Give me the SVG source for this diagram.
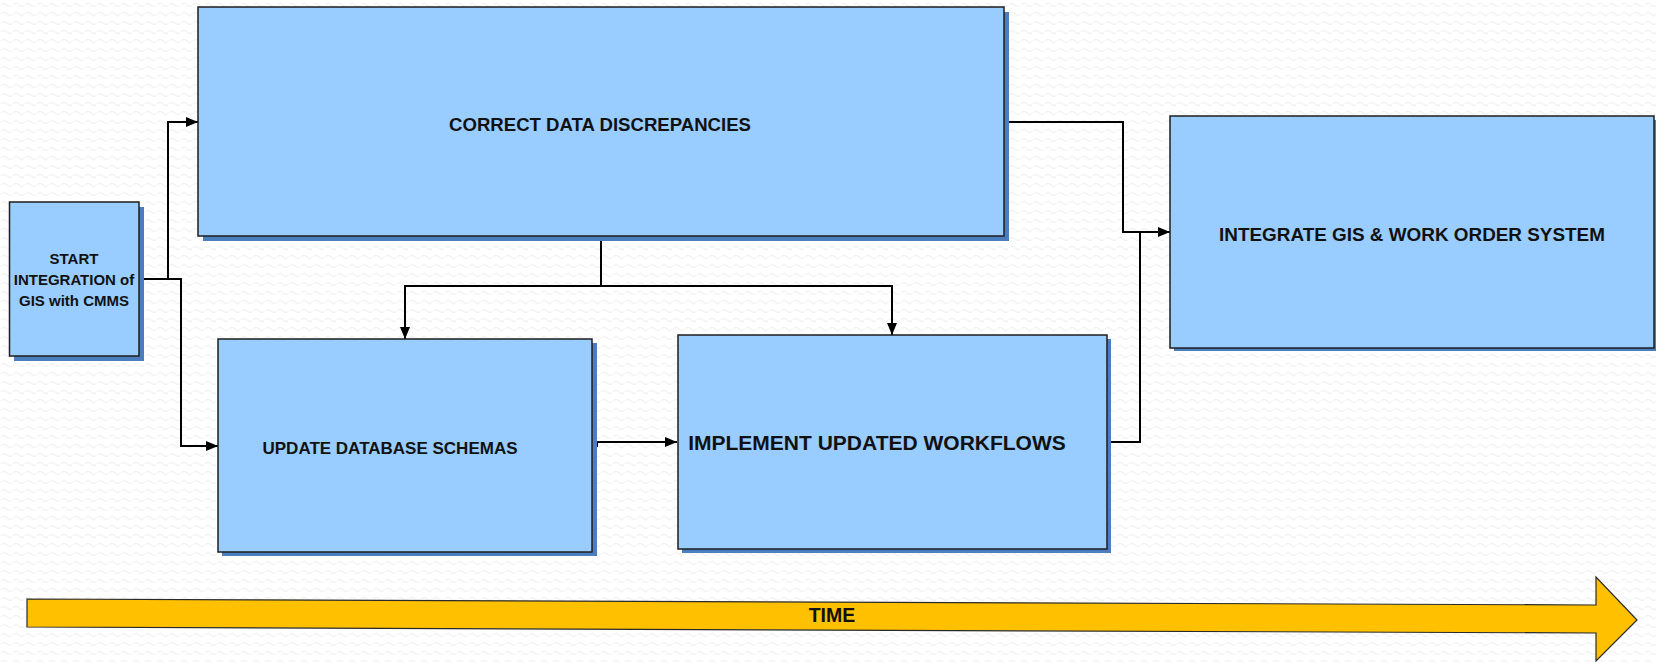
<svg xmlns="http://www.w3.org/2000/svg" width="1656" height="662" viewBox="0 0 1656 662">
  <style>
    .shadow { fill: #4a7ebf; }
    .box { fill: #99ccff; stroke: #1e1e1e; stroke-width: 1.5; }
    .label { font-family: "Liberation Sans", Arial, sans-serif; font-weight: bold; fill: #111111; text-anchor: middle; }
    .conn { fill: none; stroke: #000000; stroke-width: 2; }
    .time { fill: #ffc000; stroke: #2a2a2a; stroke-width: 1.2; }
  </style>
  <defs>
    <pattern id="bgTexture" width="12" height="9" patternUnits="userSpaceOnUse">
      <rect width="12" height="9" fill="#ffffff"/>
      <path d="M1,5 Q4,2 7,5 T13,5" fill="none" stroke="#f3f3f3" stroke-width="1.2"/>
    </pattern>
    <marker id="arrow" markerWidth="13" markerHeight="10" refX="12" refY="5" orient="auto" markerUnits="userSpaceOnUse">
      <path d="M0,0 L12,5 L0,10 Z" fill="#000000"/>
    </marker>
  </defs>

  <!-- background -->
  <rect width="1656" height="662" fill="url(#bgTexture)"/>

  <!-- time arrow -->
  <g id="time-arrow">
    <polygon class="time" points="27,599 1596,605 1596,577 1637,620 1596,661 1596,633 27,627"/>
    <text class="label" x="832" y="622" font-size="19.5">TIME</text>
  </g>

  <!-- connectors -->
  <g id="connectors">
    <path class="conn" d="M139,279 H168 V122 H198" marker-end="url(#arrow)"/>
    <path class="conn" d="M139,279 H181 V446 H218" marker-end="url(#arrow)"/>
    <path class="conn" d="M601,236 V286 H405 V339" marker-end="url(#arrow)"/>
    <path class="conn" d="M601,286 H892 V335" marker-end="url(#arrow)"/>
    <path class="conn" d="M592,446 H597 V442 H677" marker-end="url(#arrow)"/>
    <path class="conn" d="M1004,122 H1123 V232 H1170" marker-end="url(#arrow)"/>
    <path class="conn" d="M1107,442 H1140 V232"/>
  </g>

  <!-- start node -->
  <g id="start">
    <rect class="shadow" x="14" y="207" width="130" height="154"/>
    <rect class="box" x="9.5" y="202" width="129.5" height="154"/>
    <text class="label" x="74" y="264" font-size="15">START</text>
    <text class="label" x="74" y="285" font-size="15">INTEGRATION of</text>
    <text class="label" x="74" y="306" font-size="15">GIS with CMMS</text>
  </g>

  <!-- correct data discrepancies -->
  <g id="correct-data">
    <rect class="shadow" x="203" y="12" width="806" height="229"/>
    <rect class="box" x="198" y="7" width="806" height="229"/>
    <text class="label" x="600" y="131" font-size="18.6">CORRECT DATA DISCREPANCIES</text>
  </g>

  <!-- update database schemas -->
  <g id="update-schemas">
    <rect class="shadow" x="222" y="343" width="375" height="213"/>
    <rect class="box" x="218" y="339" width="374" height="213"/>
    <text class="label" x="390" y="454" font-size="17">UPDATE DATABASE SCHEMAS</text>
  </g>

  <!-- implement updated workflows -->
  <g id="implement-workflows">
    <rect class="shadow" x="682" y="339" width="429" height="214"/>
    <rect class="box" x="678" y="335" width="429" height="214"/>
    <text class="label" x="877" y="449.5" font-size="21">IMPLEMENT UPDATED WORKFLOWS</text>
  </g>

  <!-- integrate gis and work order system -->
  <g id="integrate">
    <rect class="shadow" x="1174" y="120" width="484" height="231"/>
    <rect class="box" x="1170" y="116" width="484" height="232"/>
    <text class="label" x="1412" y="241" font-size="18.9">INTEGRATE GIS &amp; WORK ORDER SYSTEM</text>
  </g>
</svg>
